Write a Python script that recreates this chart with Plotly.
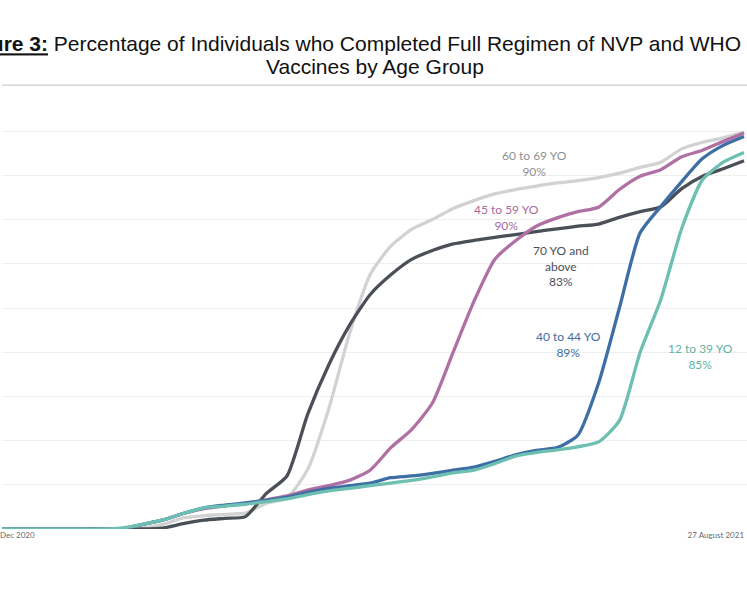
import pandas as pd
import plotly.graph_objects as go

# weekly dates, ending on 27 August 2021
dates = pd.date_range("2020-12-18", "2021-08-27", freq="7D")

age_60_69 = [0, 0, 0, 0, 0, 0, 0, 0.2, 1.0, 2.5, 3.0, 3.3, 3.6, 5.8, 7.0, 13.5, 27.0, 44.0,
             57.5, 64.0, 67.8, 70.0, 72.5, 74.3, 75.8, 76.8, 77.6, 78.3, 78.8, 79.5, 80.5,
             81.8, 83.0, 86.0, 87.5, 88.5, 89.8]
age_70_up = [0, 0, 0, 0, 0, 0, 0, 0, 0.2, 1.2, 2.0, 2.4, 2.8, 8.0, 12.0, 26.0, 37.0, 46.0,
             53.0, 57.5, 61.0, 63.0, 64.5, 65.3, 66.0, 66.6, 67.3, 67.9, 68.5, 69.0, 70.5,
             71.8, 72.9, 77.0, 79.8, 81.5, 83.3]
age_45_59 = [0, 0, 0, 0, 0, 0, 0, 1.0, 2.0, 3.5, 4.6, 5.2, 5.8, 6.6, 7.5, 8.8, 9.8, 11.0,
             13.3, 18.4, 22.5, 28.5, 40.0, 51.5, 61.0, 65.2, 68.5, 70.4, 71.8, 72.8, 76.8,
             79.8, 81.3, 84.2, 85.7, 87.7, 89.6]
age_40_44 = [0, 0, 0, 0, 0, 0, 0, 1.0, 2.0, 3.5, 4.8, 5.4, 5.9, 6.5, 7.2, 8.3, 9.2, 9.8,
             10.4, 11.6, 12.0, 12.6, 13.3, 14.0, 15.3, 16.8, 17.8, 18.4, 21.2, 33.0, 50.0,
             67.0, 73.0, 78.6, 83.8, 86.8, 88.8]
age_12_39 = [0, 0, 0, 0, 0, 0, 0.2, 1.0, 2.0, 3.5, 4.8, 5.2, 5.6, 6.2, 6.8, 7.8, 8.6, 9.2,
             9.8, 10.4, 11.0, 11.8, 12.7, 13.3, 14.8, 16.5, 17.3, 17.9, 18.6, 19.7, 24.5,
             40.0, 52.0, 68.0, 79.0, 83.0, 85.2]

series = [
    ("60 to 69 YO", age_60_69, "#d2d2d2"),
    ("70 YO and above", age_70_up, "#4b4f58"),
    ("45 to 59 YO", age_45_59, "#b070a4"),
    ("40 to 44 YO", age_40_44, "#3d6ea4"),
    ("12 to 39 YO", age_12_39, "#6cbfb1"),
]

fig = go.Figure()
for name, vals, col in series:
    fig.add_trace(go.Scatter(x=dates, y=vals, name=name, mode="lines",
                             line=dict(color=col, width=3.3, shape="spline", smoothing=0.6)))

# labels next to the curves: (text, x px, y px, colour)
labels = [
    ("60 to 69 YO<br>90%", 534, 163, "#8f8f8f"),
    ("45 to 59 YO<br>90%", 506, 218, "#a8699c"),
    ("70 YO and<br>above<br>83%", 561, 266, "#4b4f58"),
    ("40 to 44 YO<br>89%", 568, 345, "#3d6ea4"),
    ("12 to 39 YO<br>85%", 700, 356, "#5fb3a5"),
]
for txt, px, py, col in labels:
    fig.add_annotation(text=txt, x=px / 747, y=(529 - py) / 442, xref="paper", yref="paper",
                       xanchor="center", yanchor="middle", showarrow=False,
                       font=dict(family="Lato", size=12, color=col), align="center")

# second line of the title
fig.add_annotation(text="Vaccines by Age Group", x=0.5, y=(529 - 67) / 442,
                   xref="paper", yref="paper", xanchor="center", yanchor="middle",
                   showarrow=False,
                   font=dict(family="Liberation Sans", size=21, color="#111111"))

fig.add_shape(type="line", xref="paper", yref="paper", x0=0, x1=1, y0=1.004, y1=1.004,
              line=dict(color="#d6d6d6", width=1.5))

fig.update_layout(
    width=747, height=598,
    margin=dict(l=0, r=0, t=87, b=69),
    paper_bgcolor="white", plot_bgcolor="white",
    showlegend=False,
    title=dict(text="<u><b>Figure 3:</b></u> Percentage of Individuals who Completed Full Regimen "
                    "of NVP and WHO EUL",
               x=0.5, xanchor="center", y=1 - 44 / 598, yanchor="middle",
               font=dict(family="Liberation Sans", size=21, color="#111111")),
    xaxis=dict(range=["2020-12-20", "2021-08-28"], showgrid=False, zeroline=False,
               tickvals=["2020-12-31", "2021-08-27"], ticktext=["Dec 2020", "27 August 2021"],
               ticklabelposition="outside left", ticklabeloverflow="allow", ticks="",
               tickfont=dict(family="Lato", size=8, color="#6a6a6a")),
    yaxis=dict(range=[0, 100], dtick=10, showticklabels=False, gridcolor="#efefef",
               zeroline=False),
)

fig.write_html("out.html", config={"displayModeBar": False},
               post_script="document.body.style.margin = '0';")
